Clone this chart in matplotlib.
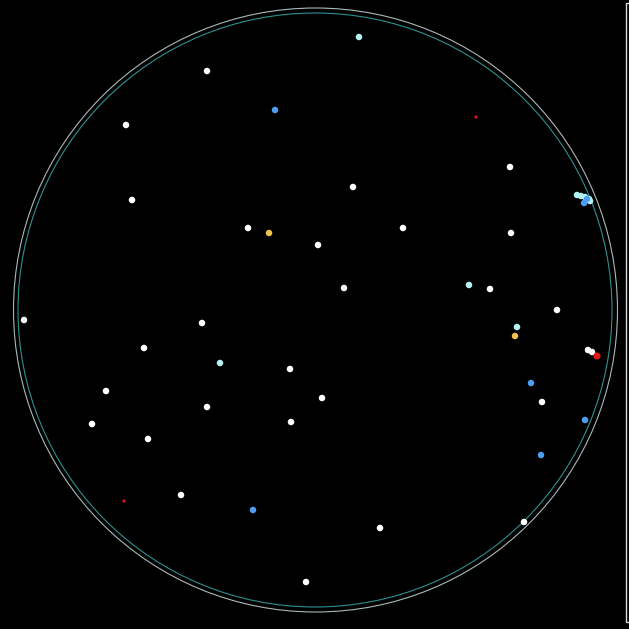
import numpy as np
import matplotlib
matplotlib.use("Agg")
import matplotlib.pyplot as plt
from matplotlib.patches import Circle, Rectangle

# point positions (pixel-like plot units, y grows downward)
white_x = [207, 126, 510, 353, 132, 248, 403, 511, 318, 344, 490, 557, 24, 202, 144,
           588, 592, 290, 106, 322, 542, 207, 92, 291, 148, 181, 524, 380, 306]
white_y = [71, 125, 167, 187, 200, 228, 228, 233, 245, 288, 289, 310, 320, 323, 348,
           350, 352, 369, 391, 398, 402, 407, 424, 422, 439, 495, 522, 528, 582]

cyan_x = [359, 469, 517, 220, 577, 581, 585, 589, 590]
cyan_y = [37, 285, 327, 363, 195, 196, 197, 199, 201]

blue_x = [275, 531, 585, 541, 253, 584, 587]
blue_y = [110, 383, 420, 455, 510, 203, 199]

yellow_x = [269, 515]
yellow_y = [233, 336]

red_small_x = [476, 124]
red_small_y = [117, 501]
red_big_x = [597]
red_big_y = [356]

fig = plt.figure(figsize=(6.29, 6.29), dpi=100, facecolor="black")
ax = fig.add_axes([0, 0, 1, 1])
ax.set_facecolor("black")
ax.set_xlim(0, 629)
ax.set_ylim(629, 0)
ax.axis("off")

# boundary circles
ax.add_patch(Circle((315.5, 310), 302, fill=False, edgecolor="#a9b9b9", lw=0.8))
ax.add_patch(Circle((315, 310), 297, fill=False, edgecolor="#2f9090", lw=0.8))

# legend frame cut off at the right edge
ax.add_patch(Rectangle((625.5, 2.5), 20, 619, fill=False, edgecolor="#d8d8d8", lw=1.0))

ax.scatter(white_x, white_y, s=22, color="white", edgecolors="none", zorder=3)
ax.scatter(cyan_x, cyan_y, s=22, color="#b4f2f2", edgecolors="none", zorder=3)
ax.scatter(blue_x, blue_y, s=22, color="#4d9ef2", edgecolors="none", zorder=3)
ax.scatter(yellow_x, yellow_y, s=22, color="#f2c24a", edgecolors="none", zorder=3)
ax.scatter(red_small_x, red_small_y, s=6, color="#d01010", edgecolors="none", zorder=3)
ax.scatter(red_big_x, red_big_y, s=26, color="#e01818", edgecolors="none", zorder=4)

fig.savefig("out.png", dpi=100, facecolor="black")
